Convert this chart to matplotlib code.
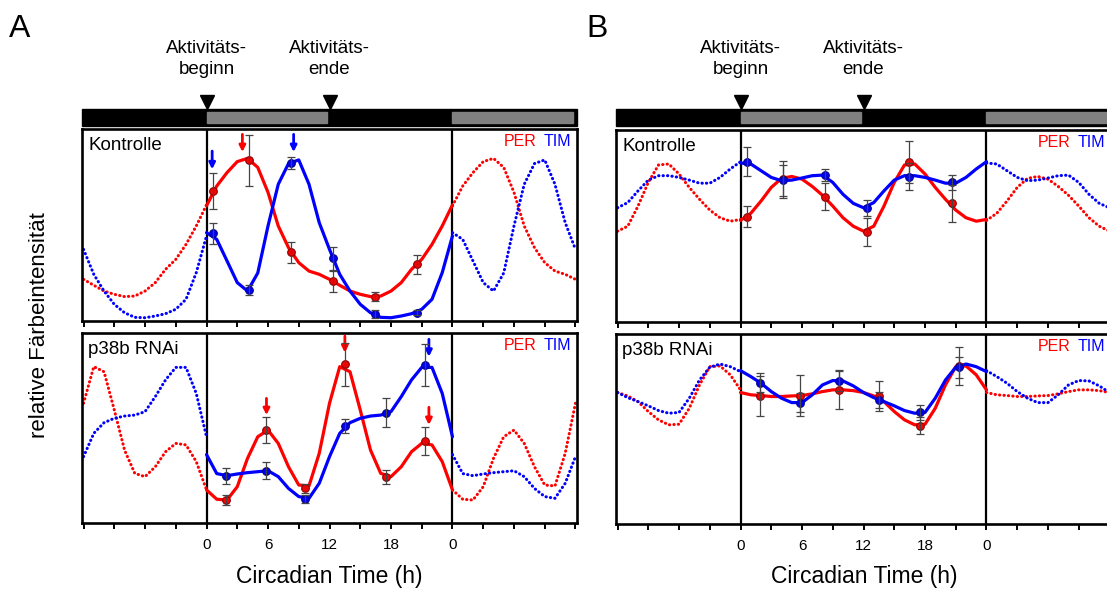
import matplotlib.pyplot as plt
from matplotlib.patches import Rectangle

plt.rcParams['font.family'] = ['Liberation Sans', 'DejaVu Sans']

RED = '#ff0000'
BLUE = '#0000ff'

# curve samples, CT 0..24 every 1 h (values in % of panel height)
ct_grid = list(range(0, 25))

a_ctrl_per = [60.0, 70.3, 77.3, 83.0, 84.7, 80.0, 67.0, 49.5, 38.2, 30.4, 26.0, 24.3, 21.7,
              18.6, 15.6, 13.9, 12.7, 13.0, 15.6, 20.0, 26.9, 32.1, 39.9, 49.5, 60.5]
a_ctrl_tim = [46.0, 42.5, 31.3, 20.0, 15.6, 25.0, 49.5, 71.2, 82.0, 83.9, 71.2, 51.2, 37.3,
              24.3, 15.6, 8.7, 4.3, 1.9, 1.7, 2.6, 3.8, 6.1, 11.3, 25.2, 44.3]
a_rnai_per = [17.4, 12.5, 12.1, 19.1, 34.0, 45.4, 48.9, 41.9, 29.6, 20.0, 19.5, 36.7, 63.0,
              82.3, 79.6, 59.5, 38.4, 26.1, 24.4, 29.6, 37.5, 41.9, 41.1, 32.3, 17.4]
a_rnai_tim = [36.0, 26.0, 24.9, 25.8, 26.5, 27.0, 27.5, 24.4, 18.2, 13.9, 13.0, 20.9, 34.9,
              47.2, 52.8, 55.1, 56.3, 56.8, 58.6, 66.5, 75.3, 81.9, 81.9, 68.2, 45.4]
b_ctrl_per = [52.9, 56.6, 63.0, 70.1, 74.8, 75.8, 74.4, 70.6, 66.0, 60.4, 54.3, 49.9, 47.3,
              49.9, 60.4, 72.7, 81.8, 82.3, 77.1, 70.1, 63.9, 58.3, 54.3, 52.5, 53.4]
b_ctrl_tim = [82.8, 82.3, 78.8, 75.3, 73.6, 73.9, 75.0, 76.2, 76.5, 72.7, 66.5, 61.8, 59.5,
              62.2, 68.3, 73.9, 76.2, 76.2, 75.3, 73.9, 72.3, 72.3, 75.3, 79.7, 83.5]
b_rnai_per = [69.2, 68.0, 67.6, 67.1, 67.1, 67.4, 67.6, 68.5, 69.7, 70.6, 70.6, 70.2, 69.2,
              67.4, 64.4, 59.2, 54.8, 52.2, 52.5, 60.9, 73.2, 82.8, 83.2, 78.5, 70.6]
b_rnai_tim = [80.7, 77.6, 74.1, 69.7, 66.2, 63.9, 63.9, 68.0, 73.2, 75.5, 75.3, 72.7, 69.2,
              66.5, 64.4, 62.2, 59.7, 58.3, 58.7, 66.2, 75.8, 82.5, 84.2, 82.8, 80.2]

# measured points with error bars
a_ctrl_t = [0.6, 4.1, 8.2, 12.3, 16.4, 20.5]
a_ctrl_per_pts = [67.7, 83.7, 35.9, 20.8, 12.7, 29.5]
a_ctrl_per_err = [9.4, 13.4, 5.5, 5.5, 2.2, 5.0]
a_ctrl_tim_pts = [45.7, 16.1, 82.5, 32.6, 3.5, 4.3]
a_ctrl_tim_err = [5.5, 2.4, 3.1, 6.0, 2.0, 1.3]

a_rnai_t = [1.9, 5.85, 9.6, 13.5, 17.5, 21.3]
a_rnai_per_pts = [12.1, 48.9, 18.2, 83.5, 24.4, 43.2]
a_rnai_per_err = [2.5, 7.0, 2.5, 11.2, 3.7, 7.2]
a_rnai_tim_pts = [24.9, 27.5, 12.5, 51.2, 58.1, 83.2]
a_rnai_tim_err = [4.3, 4.6, 2.2, 3.8, 7.5, 11.0]

b_ctrl_t = [0.6, 4.1, 8.2, 12.3, 16.4, 20.6]
b_ctrl_per_pts = [54.8, 74.4, 65.3, 46.8, 83.5, 61.8]
b_ctrl_per_err = [5.5, 9.6, 7.0, 7.3, 10.9, 9.8]
b_ctrl_tim_pts = [83.5, 73.9, 76.4, 59.5, 75.7, 72.7]
b_ctrl_tim_err = [7.6, 8.1, 3.2, 4.2, 7.2, 3.7]

b_rnai_t = [1.9, 5.85, 9.65, 13.55, 17.5, 21.35]
b_rnai_per_pts = [67.6, 67.6, 70.6, 67.4, 51.7, 83.2]
b_rnai_per_err = [10.5, 11.0, 10.0, 7.9, 4.4, 10.0]
b_rnai_tim_pts = [74.4, 63.9, 75.5, 65.3, 58.7, 82.5]
b_rnai_tim_err = [5.0, 5.0, 5.5, 4.0, 4.0, 5.4]

# arrows: (CT, tail, tip, colour)
a_ctrl_arrows = [(0.55, 88.5, 79.0, BLUE), (3.5, 97.2, 88.0, RED), (8.5, 97.2, 88.0, BLUE)]
a_rnai_arrows = [(5.85, 65.6, 56.8, RED), (13.5, 98.4, 89.6, RED),
                 (21.7, 96.7, 87.5, BLUE), (21.7, 60.9, 51.6, RED)]

light_on = [0, 24]
light_off = [12, 36]
tick_pos = list(range(-12, 37, 3))
tick_txt = {0: '0', 6: '6', 12: '12', 18: '18', 24: '0'}

W, H = 1107, 589
fig = plt.figure(figsize=(W / 100, H / 100), dpi=100)


def box(x0, y0, x1, y1):
    return [x0 / W, 1 - y1 / H, (x1 - x0) / W, (y1 - y0) / H]


def draw_curve(ax, vals, color):
    # double plot: solid for 0..24, dotted copies before and after
    ax.plot(ct_grid, vals, color=color, lw=2.3, solid_capstyle='round',
            solid_joinstyle='round', zorder=3)
    left_t = [t - 24 for t in ct_grid[12:]]
    ax.plot(left_t, vals[12:], color=color, lw=2.2, ls=(0, (0.1, 1.35)),
            dash_capstyle='round', zorder=2)
    right_t = [t + 24 for t in ct_grid[:13]]
    ax.plot(right_t, vals[:13], color=color, lw=2.2, ls=(0, (0.1, 1.35)),
            dash_capstyle='round', zorder=2)


def draw_panel(ax, per, tim, t, per_pts, per_err, tim_pts, tim_err, label,
               arrows, show_labels):
    ax.set_xlim(-12.15, 36.15)
    ax.set_ylim(0, 100)
    draw_curve(ax, per, RED)
    draw_curve(ax, tim, BLUE)
    ax.plot(t, per_pts, 'o', color=RED, mec='#8a0000', mew=0.8, ms=5.5, zorder=4)
    ax.plot(t, tim_pts, 'o', color=BLUE, mec='#00008a', mew=0.8, ms=5.5, zorder=4)
    ax.errorbar(t, per_pts, yerr=per_err, fmt='none', ecolor='#444444',
                elinewidth=0.9, capsize=3.2, capthick=0.9, zorder=5)
    ax.errorbar(t, tim_pts, yerr=tim_err, fmt='none', ecolor='#444444',
                elinewidth=0.9, capsize=3.2, capthick=0.9, zorder=5)
    for x in light_on:
        ax.axvline(x, color='black', lw=1.6, zorder=1)
    for ct, y0, y1, c in arrows:
        ax.annotate('', xy=(ct, y1), xytext=(ct, y0),
                    arrowprops=dict(arrowstyle='-|>', color=c, lw=2.0,
                                    mutation_scale=9, shrinkA=0, shrinkB=0))
    ax.text(0.013, 0.915, label, transform=ax.transAxes, fontsize=13.5,
            ha='left', va='center')
    ax.text(0.919, 0.935, 'PER', transform=ax.transAxes, fontsize=11.5,
            color=RED, ha='right', va='center')
    ax.text(0.988, 0.935, 'TIM', transform=ax.transAxes, fontsize=11.5,
            color=BLUE, ha='right', va='center')
    ax.set_yticks([])
    ax.set_xticks(tick_pos)
    if show_labels:
        ax.set_xticklabels([tick_txt.get(p, '') for p in tick_pos], fontsize=11)
    else:
        ax.set_xticklabels([])
    ax.tick_params(axis='x', direction='out', length=4.5, width=1.4, pad=6)
    for s in ax.spines.values():
        s.set_linewidth(1.9)


def draw_bar(ax):
    ax.set_xlim(-12.15, 36.15)
    ax.set_ylim(0, 1)
    ax.axis('off')
    ax.add_patch(Rectangle((-12.15, 0), 48.3, 1, color='black', clip_on=False))
    for a, b in zip(light_on, light_off):
        ax.add_patch(Rectangle((a, 0.17), b - a - 0.2, 0.66, color='#808080'))
    ax.plot([0, 12], [1.4, 1.4], 'v', color='black', ms=10, clip_on=False)
    ax.text(0, 3.95, 'Aktivitäts-\nbeginn', ha='center', va='center',
            fontsize=13.5, linespacing=1.3)
    ax.text(12, 3.95, 'Aktivitäts-\nende', ha='center', va='center',
            fontsize=13.5, linespacing=1.3)


# panel A
ax_bar_a = fig.add_axes(box(82, 109, 577, 126))
draw_bar(ax_bar_a)
ax1 = fig.add_axes(box(82, 129, 577, 321))
draw_panel(ax1, a_ctrl_per, a_ctrl_tim, a_ctrl_t, a_ctrl_per_pts, a_ctrl_per_err,
           a_ctrl_tim_pts, a_ctrl_tim_err, 'Kontrolle', a_ctrl_arrows, False)
ax2 = fig.add_axes(box(82, 333, 577, 523))
draw_panel(ax2, a_rnai_per, a_rnai_tim, a_rnai_t, a_rnai_per_pts, a_rnai_per_err,
           a_rnai_tim_pts, a_rnai_tim_err, 'p38b RNAi', a_rnai_arrows, True)

# panel B (runs past the right edge)
ax_bar_b = fig.add_axes(box(616, 109, 1111, 126))
draw_bar(ax_bar_b)
ax3 = fig.add_axes(box(616, 130, 1111, 322))
draw_panel(ax3, b_ctrl_per, b_ctrl_tim, b_ctrl_t, b_ctrl_per_pts, b_ctrl_per_err,
           b_ctrl_tim_pts, b_ctrl_tim_err, 'Kontrolle', [], False)
ax4 = fig.add_axes(box(616, 334, 1111, 524))
draw_panel(ax4, b_rnai_per, b_rnai_tim, b_rnai_t, b_rnai_per_pts, b_rnai_per_err,
           b_rnai_tim_pts, b_rnai_tim_err, 'p38b RNAi', [], True)

fig.text(20 / W, 1 - 29 / H, 'A', fontsize=23, ha='center', va='center')
fig.text(597 / W, 1 - 29 / H, 'B', fontsize=23, ha='center', va='center')
fig.text(40 / W, 1 - 325 / H, 'relative Färbeintensität', fontsize=16,
         rotation=90, ha='center', va='center')
fig.text(329 / W, 1 - 577 / H, 'Circadian Time (h)', fontsize=16.5,
         ha='center', va='center')
fig.text(864 / W, 1 - 577 / H, 'Circadian Time (h)', fontsize=16.5,
         ha='center', va='center')

fig.savefig('out.png', dpi=100)
